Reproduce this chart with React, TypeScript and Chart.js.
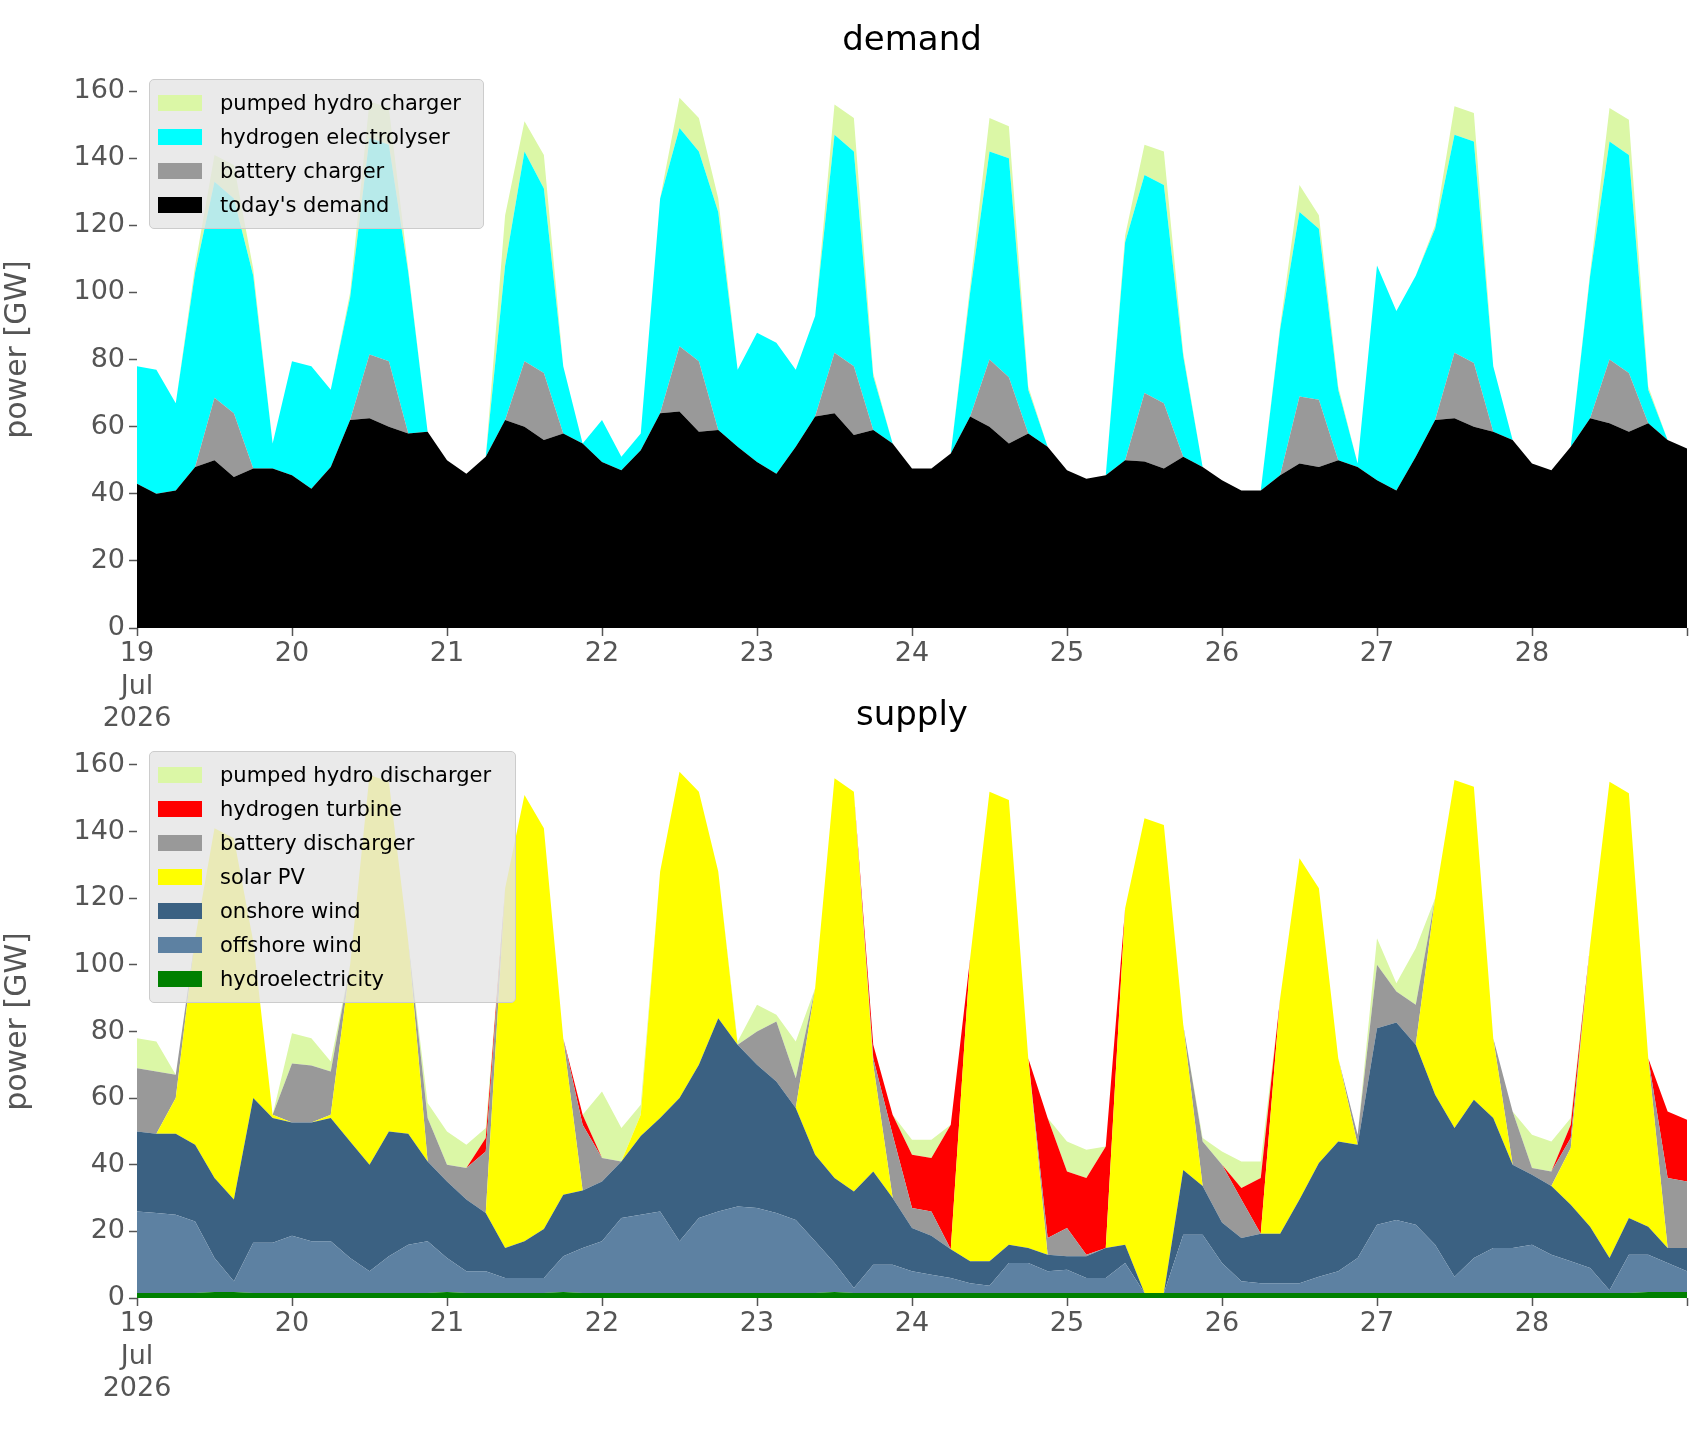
import React, { useEffect, useRef } from "react";
import { Chart, registerables } from "chart.js";
Chart.register(...registerables);

// x positions: 3-hour steps from 19 Jul 00:00 to 29 Jul 00:00 (in days)
const dayStart = 19;
const stepsPerDay = 8;
const xTickLabels = ["19", "20", "21", "22", "23", "24", "25", "26", "27", "28"];
const firstTickLabel = ["19", "Jul", "2026"];

// ---- demand (cumulative tops, GW) ----
const demandToday = [
  43, 40, 41, 48, 50, 45, 47.5, 47.5,
  45.5, 41.5, 48, 62, 62.5, 60, 58, 58.5,
  50, 46, 51, 62, 60, 56, 58, 55,
  49.5, 47, 53, 64, 64.5, 58.5, 59, 54,
  49.5, 46, 54, 63, 64, 57.5, 59, 55,
  47.5, 47.5, 52, 63, 60, 55, 58, 54,
  47, 44.5, 45.5, 50, 49.6, 47.5, 51, 48,
  44, 41, 41, 45.5, 49, 48, 50, 48,
  44, 41, 51, 62, 62.5, 60, 58.5, 56,
  49, 47, 54, 62.5, 61, 58.5, 61, 56,
  53.5,
];
const batteryChargerTop = [
  43, 40, 41, 48, 68.6, 64, 47.5, 47.5,
  45.5, 41.5, 48, 62, 81.5, 79.5, 58, 58.5,
  50, 46, 51, 62, 79.5, 76, 58, 55,
  49.5, 47, 53, 64, 84, 79.5, 59, 54,
  49.5, 46, 54, 63, 82, 78, 59, 55,
  47.5, 47.5, 52, 63, 80, 74.7, 58, 54,
  47, 44.5, 45.5, 50, 70, 67, 51, 48,
  44, 41, 41, 45.5, 69, 68, 50, 48,
  44, 41, 51, 62, 82, 79, 58.5, 56,
  49, 47, 54, 62.5, 80, 76, 61, 56,
  53.5,
];
const electrolyserTop = [
  78, 77, 67, 106, 133, 128, 105, 55,
  79.5, 78, 71, 98.5, 146, 144, 106, 58.5,
  50, 46, 51, 108, 142, 131, 78, 55,
  62, 51, 58, 128, 149, 142, 124, 77,
  88, 85, 77, 93, 147, 142, 75, 55,
  47.5, 47.5, 52, 100, 142, 140, 71, 54,
  47, 44.5, 45.5, 115, 135, 132, 81, 48,
  44, 41, 41, 89, 124, 119, 71, 49,
  108, 94.5, 105, 119, 147, 145, 78, 56,
  49, 47, 54, 105, 145, 141, 71, 56,
  53.5,
];
const totalPower = [
  78, 77, 67, 108, 141, 138, 107, 55,
  79.5, 78, 71, 100, 157, 155, 107, 58.5,
  50, 46, 51, 123, 151, 141, 78, 55,
  62, 51, 58, 128, 158, 152, 128, 77,
  88, 85, 77, 93, 156, 152, 76, 55,
  47.5, 47.5, 52, 102, 152, 149.5, 72, 54,
  47, 44.5, 45.5, 117, 144, 142, 82, 48,
  44, 41, 41, 90, 132, 123, 72, 49,
  108, 94.5, 105, 120, 155.5, 153.5, 78, 56,
  49, 47, 54, 106, 155, 151.5, 72, 56,
  53.5,
];

// ---- supply (cumulative tops, GW) ----
const hydroTop = [
  1.5, 1.5, 1.5, 1.5, 1.8, 1.8, 1.5, 1.5,
  1.5, 1.5, 1.5, 1.5, 1.5, 1.5, 1.5, 1.5,
  1.8, 1.5, 1.5, 1.5, 1.5, 1.5, 1.8, 1.5,
  1.5, 1.5, 1.5, 1.5, 1.5, 1.5, 1.5, 1.5,
  1.5, 1.5, 1.5, 1.5, 1.8, 1.5, 1.5, 1.5,
  1.5, 1.5, 1.5, 1.5, 1.5, 1.5, 1.5, 1.5,
  1.5, 1.5, 1.5, 1.5, 1.5, 1.5, 1.5, 1.5,
  1.5, 1.5, 1.5, 1.5, 1.5, 1.5, 1.5, 1.5,
  1.5, 1.5, 1.5, 1.5, 1.5, 1.5, 1.5, 1.5,
  1.5, 1.5, 1.5, 1.5, 1.5, 1.5, 1.8, 1.8,
  1.8,
];
const offshoreTop = [
  26, 25.5, 25, 23, 12, 5, 16.6, 16.6,
  18.7, 17, 17, 12, 8, 12.5, 16, 17,
  12, 8, 8, 6, 6, 6, 12.5, 15,
  17, 24, 25, 26, 17, 24, 26, 27.5,
  27, 25.5, 23.4, 17, 10.5, 3, 10, 10,
  8, 7, 6, 4.4, 3.7, 10.5, 10.5, 8,
  8.5, 6, 6, 10.5, 1.5, 1.5, 19, 19,
  10.5, 5, 4.4, 4.4, 4.4, 6.4, 8, 12,
  22, 23.4, 22, 16, 6.4, 12, 15, 15,
  16, 13, 11, 9, 2.3, 13, 13, 10.5,
  8,
];
const onshoreTop = [
  50, 49.3, 49.3, 46, 36, 29.6, 60, 54,
  52.7, 52.7, 54, 47, 40, 50, 49.3, 41,
  35, 29.6, 25.5, 15, 17, 20.7, 31, 32.3,
  35, 41, 48.6, 54, 60, 70, 84, 76,
  70, 65, 57, 43, 36, 32, 38, 30,
  21, 18.7, 14.6, 11, 11, 16, 15, 13,
  12.5, 12.5, 15, 16, 1.5, 1.5, 38.4, 33.6,
  22.7, 18, 19.3, 19.3, 29.6, 40.5, 47, 46,
  81, 82.7, 76, 61, 51, 59.5, 54, 40,
  37, 33.6, 28, 21.4, 12, 24, 21.4, 15,
  15,
];
const solarTop = [
  50, 49.3, 60, 108, 141, 138, 107, 55,
  52.7, 52.7, 55, 100, 157, 155, 107, 41,
  35, 29.6, 25.5, 123, 151, 141, 78, 32.3,
  35, 41, 55, 128, 158, 152, 128, 76,
  70, 65, 57, 93, 156, 152, 70, 30,
  21, 18.7, 14.6, 102, 152, 149.5, 72, 13,
  12.5, 12.5, 15, 117, 144, 142, 82, 33.6,
  22.7, 18, 19.3, 90, 132, 123, 72, 46,
  81, 82.7, 76, 120, 155.5, 153.5, 78, 40,
  37, 33.6, 45, 106, 155, 151.5, 72, 15,
  15,
];
const batteryDischargerTop = [
  69, 68, 67, 108, 141, 138, 107, 55,
  70.4, 69.8, 68, 100, 157, 155, 107, 54,
  40, 39, 44, 123, 151, 141, 78, 52,
  42, 41, 55, 128, 158, 152, 128, 76,
  80, 83, 66, 93, 156, 152, 72, 49,
  27, 26, 14.6, 102, 152, 149.5, 72, 18,
  21, 13, 15, 117, 144, 142, 82, 47,
  40, 29.6, 19.3, 90, 132, 123, 72, 49,
  100, 92, 88, 120, 155.5, 153.5, 78, 56,
  39, 38, 48, 106, 155, 151.5, 72, 36,
  35,
];
const hydrogenTurbineTop = [
  69, 68, 67, 108, 141, 138, 107, 55,
  70.4, 69.8, 68, 100, 157, 155, 107, 54,
  40, 39, 48, 123, 151, 141, 78, 55,
  42, 41, 55, 128, 158, 152, 128, 76,
  80, 83, 66, 93, 156, 152, 76, 55,
  43, 42, 52, 102, 152, 149.5, 72, 54,
  38, 36, 45.5, 117, 144, 142, 82, 47,
  40, 33, 36, 90, 132, 123, 72, 49,
  100, 92, 88, 120, 155.5, 153.5, 78, 56,
  39, 38, 52, 106, 155, 151.5, 72, 56,
  53.5,
];

const FONT = "'DejaVu Sans', sans-serif";
const TICK = "#555555";

type Layer = { label: string; color: string; data: number[] };

const demandLayers: Layer[] = [
  { label: "today's demand", color: "#000000", data: demandToday },
  { label: "battery charger", color: "#999999", data: batteryChargerTop },
  { label: "hydrogen electrolyser", color: "#00ffff", data: electrolyserTop },
  { label: "pumped hydro charger", color: "#dbf7a6", data: totalPower },
];
const supplyLayers: Layer[] = [
  { label: "hydroelectricity", color: "#008000", data: hydroTop },
  { label: "offshore wind", color: "#5d81a2", data: offshoreTop },
  { label: "onshore wind", color: "#3b6182", data: onshoreTop },
  { label: "solar PV", color: "#ffff00", data: solarTop },
  { label: "battery discharger", color: "#999999", data: batteryDischargerTop },
  { label: "hydrogen turbine", color: "#ff0000", data: hydrogenTurbineTop },
  { label: "pumped hydro discharger", color: "#dbf7a6", data: totalPower },
];

function AreaChart({ layers, padTop, xHeight, height }: { layers: Layer[]; padTop: number; xHeight: number; height: number }) {
  const ref = useRef<HTMLCanvasElement>(null);
  useEffect(() => {
    const datasets = layers.map((l, k) => ({
      label: l.label,
      data: l.data.map((v, i) => ({ x: dayStart + i / stepsPerDay, y: v })),
      backgroundColor: l.color,
      borderWidth: 0,
      pointRadius: 0,
      tension: 0,
      fill: k === 0 ? "origin" : "-1",
    }));
    const chart = new Chart(ref.current!, {
      type: "line",
      data: { datasets: datasets as any },
      options: {
        animation: false,
        responsive: false,
        devicePixelRatio: 1,
        layout: { padding: { top: padTop, right: 19, left: 0, bottom: 0 } },
        plugins: { legend: { display: false }, tooltip: { enabled: false }, title: { display: false } },
        scales: {
          x: {
            type: "linear",
            min: 19,
            max: 29,
            afterFit: (s: any) => { s.height = xHeight; },
            afterBuildTicks: (s: any) => {
              s.ticks = Array.from({ length: 11 }, (_, i) => ({ value: 19 + i }));
            },
            ticks: {
              color: TICK,
              font: { family: FONT, size: 27 },
              padding: 2,
              maxRotation: 0,
              autoSkip: false,
              callback: (v: any) => {
                const n = Math.round(Number(v));
                if (n === 19) return firstTickLabel;
                if (n === 29) return "";
                return xTickLabels[n - 19];
              },
            },
            grid: { drawOnChartArea: false, tickLength: 8, color: TICK, tickWidth: 1.5 },
            border: { display: false },
          },
          y: {
            min: 0,
            max: 166,
            afterFit: (s: any) => { s.width = 137; },
            afterBuildTicks: (s: any) => {
              s.ticks = [0, 20, 40, 60, 80, 100, 120, 140, 160].map((v) => ({ value: v }));
            },
            ticks: { color: TICK, font: { family: FONT, size: 27 }, padding: 4 },
            title: { display: true, text: "power [GW]", color: TICK, font: { family: FONT, size: 30 }, padding: 0 },
            grid: { drawOnChartArea: false, tickLength: 8, color: TICK, tickWidth: 1.5 },
            border: { display: false },
          },
        },
      },
    });
    return () => chart.destroy();
  }, []);
  return <canvas ref={ref} width={1706} height={height} style={{ display: "block" }} />;
}

function Legend({ layers, left, top, width }: { layers: Layer[]; left: number; top: number; width: number }) {
  return (
    <div
      style={{
        position: "absolute", left, top, width,
        background: "rgba(229,229,229,0.8)", border: "1px solid #cccccc", borderRadius: 5,
        padding: "6px 0 6px 0", boxSizing: "border-box", fontFamily: FONT, fontSize: 21, color: "#000",
      }}
    >
      {[...layers].reverse().map((l) => (
        <div key={l.label} style={{ display: "flex", alignItems: "center", height: 34 }}>
          <div style={{ width: 44, height: 16, background: l.color, marginLeft: 8, marginRight: 18 }} />
          <span>{l.label}</span>
        </div>
      ))}
    </div>
  );
}

export default function App() {
  useEffect(() => {
    document.body.style.margin = "0";
  }, []);
  const titleStyle: React.CSSProperties = {
    position: "absolute", left: 137, width: 1550, textAlign: "center",
    fontFamily: FONT, fontSize: 34, color: "#000", lineHeight: "40px",
  };
  return (
    <div style={{ position: "relative", width: 1706, height: 1431, background: "#fff" }}>
      <div style={{ position: "absolute", left: 0, top: 0 }}>
        <AreaChart layers={demandLayers} padTop={71} xHeight={132} height={760} />
      </div>
      <div style={{ position: "absolute", left: 0, top: 715 }}>
        <AreaChart layers={supplyLayers} padTop={30} xHeight={132} height={715} />
      </div>
      <div style={{ ...titleStyle, top: 18 }}>demand</div>
      <div style={{ ...titleStyle, top: 693 }}>supply</div>
      <Legend layers={demandLayers} left={149} top={79} width={335} />
      <Legend layers={supplyLayers} left={149} top={751} width={367} />
    </div>
  );
}
